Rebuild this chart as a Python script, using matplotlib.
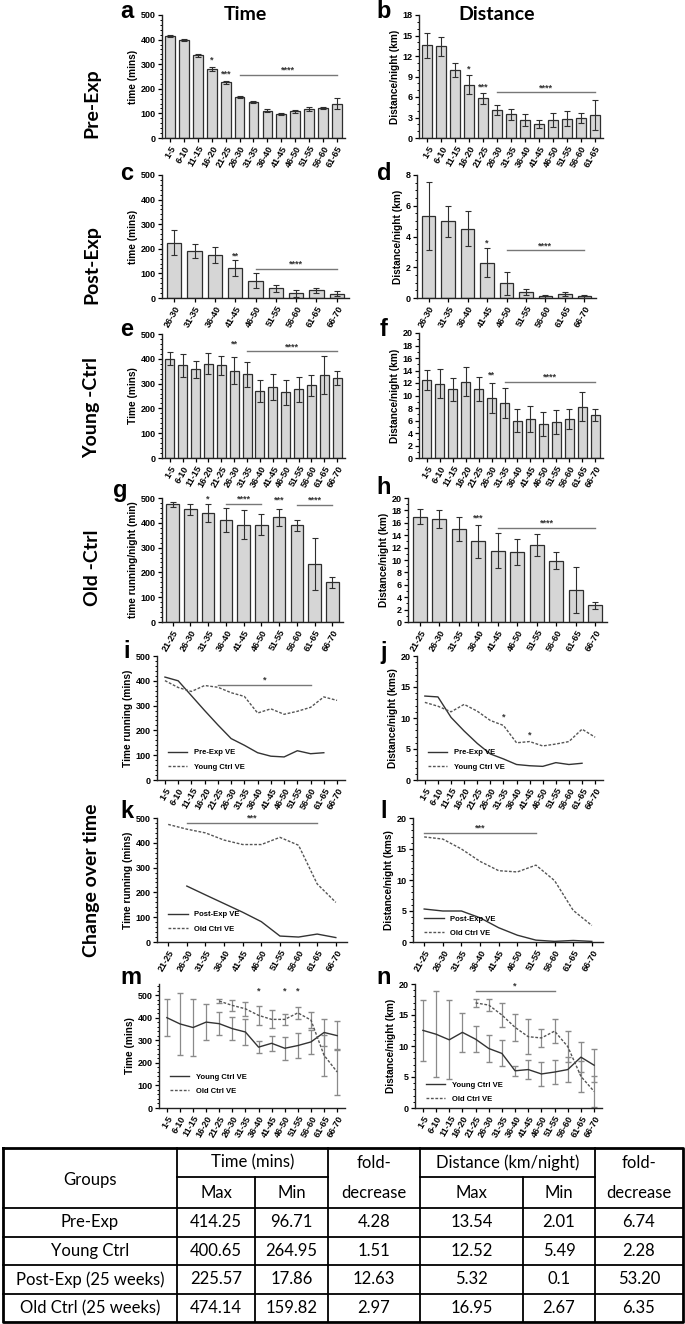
import numpy as np
import matplotlib.pyplot as plt
from matplotlib.lines import Line2D
from matplotlib.ticker import AutoMinorLocator, MultipleLocator

plt.rcParams['font.family'] = ['Liberation Sans', 'DejaVu Sans']
plt.rcParams['font.weight'] = 'bold'
plt.rcParams['axes.labelweight'] = 'bold'

W, H = 685, 1324

# ---- data ----
wk_all = ["1-5", "6-10", "11-15", "16-20", "21-25", "26-30", "31-35", "36-40",
          "41-45", "46-50", "51-55", "56-60", "61-65", "66-70"]
wk_pre = wk_all[:13]
wk_post = wk_all[5:]
wk_old = wk_all[4:]

pre_time = [414.25, 399, 336, 282, 226, 167, 145, 111, 96.71, 108, 117, 122, 139]
pre_time_err = [4, 5, 5, 8, 5, 4, 4, 5, 4, 7, 8, 6, 22]
pre_dist = [13.54, 13.4, 10.0, 7.8, 5.8, 4.1, 3.5, 2.6, 2.01, 2.6, 2.8, 2.9, 3.4]
pre_dist_err = [1.85, 1.4, 1.0, 1.4, 0.8, 0.8, 0.8, 0.85, 0.6, 1.05, 1.1, 0.7, 2.2]

post_time = [225.57, 191, 175, 121, 71, 39, 20, 31, 17.86]
post_time_err = [50, 30, 33, 33, 31, 15, 14, 11, 9]
post_dist = [5.32, 5.0, 4.5, 2.3, 0.95, 0.38, 0.1, 0.24, 0.1]
post_dist_err = [2.2, 1.0, 1.15, 0.95, 0.75, 0.2, 0.12, 0.12, 0.08]

young_time = [400.65, 373, 357, 381, 374, 352, 337, 270, 287, 264.95, 277, 293, 335, 321]
young_time_err = [27, 45, 35, 44, 39, 55, 52, 46, 52, 51, 50, 43, 77, 28]
young_dist = [12.52, 11.9, 11.0, 12.2, 11.1, 9.6, 8.8, 6.0, 6.2, 5.49, 5.8, 6.2, 8.2, 6.9]
young_dist_err = [1.6, 2.3, 1.8, 2.3, 1.9, 2.4, 2.4, 1.9, 2.1, 1.9, 1.9, 1.6, 2.3, 1.0]

old_time = [474.14, 455, 440, 411, 393, 393, 422, 390, 234, 159.82]
old_time_err = [10, 22, 35, 47, 60, 43, 33, 23, 105, 22]
old_dist = [16.95, 16.6, 15.0, 13.0, 11.5, 11.3, 12.4, 9.9, 5.1, 2.67]
old_dist_err = [1.2, 1.5, 2.0, 2.6, 2.8, 2.1, 1.8, 1.4, 3.7, 0.6]

# line panels (values read from i-l)
pre_time_ve = [415, 400, 340, 280, 222, 167, 140, 110, 96, 93, 118, 106, 110]
pre_dist_ve = [13.54, 13.4, 10.1, 7.9, 5.9, 4.2, 3.4, 2.5, 2.3, 2.2, 2.8, 2.5, 2.7]
post_time_ve = [np.nan, 225.57, 190, 155, 120, 82, 24, 20, 32, 17.86]
post_dist_ve = [5.32, 5.0, 5.0, 3.9, 2.3, 1.1, 0.3, 0.1, 0.25, 0.1]

# SD for m/n
young_time_sd = [83, 136, 126, 79, 50, 52, 57, 27, 34, 51, 56, 53, 58, 63]
old_time_sd = [10, 25, 30, 43, 40, 23, 27, 35, 92, 103]
young_dist_sd = [4.9, 6.9, 6.4, 3.1, 2.1, 2.1, 2.1, 0.8, 1.6, 1.95, 2.0, 2.0, 2.4, 2.65]
old_dist_sd = [0.6, 1.0, 2.0, 2.2, 2.8, 1.5, 1.9, 2.5, 2.5, 2.5]

# table
groups = ["Pre-Exp", "Young Ctrl", "Post-Exp (25 weeks)", "Old Ctrl (25 weeks)"]
time_max = ["414.25", "400.65", "225.57", "474.14"]
time_min = ["96.71", "264.95", "17.86", "159.82"]
time_fold = ["4.28", "1.51", "12.63", "2.97"]
dist_max = ["13.54", "12.52", "5.32", "16.95"]
dist_min = ["2.01", "5.49", "0.1", "2.67"]
dist_fold = ["6.74", "2.28", "53.20", "6.35"]

BAR = "#d6d6d6"
EDGE = "#2e2e2e"
LINE = "#333333"
DOT = "#555555"
SIG = "#777777"
DASH = (0, (2, 1.2))

fig = plt.figure(figsize=(W / 100, H / 100), dpi=100, facecolor="white")


def add_ax(l, t, r, b):
    return fig.add_axes([l / W, 1 - b / H, (r - l) / W, (b - t) / H])


def style(ax, cats, ymax, ystep, minor, ylabel):
    for s in ("top", "right"):
        ax.spines[s].set_visible(False)
    for s in ("left", "bottom"):
        ax.spines[s].set_linewidth(1.0)
        ax.spines[s].set_color("#222222")
    ax.set_ylim(0, ymax)
    ax.yaxis.set_major_locator(MultipleLocator(ystep))
    if minor:
        ax.yaxis.set_minor_locator(AutoMinorLocator(minor))
    ax.set_xticks(np.arange(len(cats)))
    ax.set_xticklabels(cats, rotation=60, ha="right", rotation_mode="anchor")
    ax.set_xlim(-0.6, len(cats) - 0.4)
    ax.tick_params(axis="both", which="major", length=3, width=0.9, labelsize=6.5, pad=1.5)
    ax.tick_params(axis="y", which="minor", length=1.8, width=0.7)
    ax.set_ylabel(ylabel, fontsize=7.3, labelpad=2)


def bar_panel(box, cats, vals, errs, ymax, ystep, minor, ylabel):
    ax = add_ax(*box)
    x = np.arange(len(cats))
    ax.bar(x, vals, width=0.7, color=BAR, edgecolor=EDGE, linewidth=0.9, zorder=2)
    ax.errorbar(x, vals, yerr=errs, fmt="none", ecolor=EDGE, elinewidth=0.8,
                capsize=2.2, capthick=0.8, zorder=3)
    style(ax, cats, ymax, ystep, minor, ylabel)
    return ax


def sig(ax, x0, x1, y, txt, ty=None, fs=6.5):
    if x1 > x0:
        ax.plot([x0, x1], [y, y], color=SIG, lw=1.0, clip_on=False)
    ax.text((x0 + x1) / 2, y if ty is None else ty, txt, ha="center", va="bottom",
            fontsize=fs, fontweight="bold", color="#333333", clip_on=False)


def line_legend(ax, labels, dy=0.02):
    handles = [Line2D([], [], color=LINE, lw=1.0), Line2D([], [], color=DOT, lw=1.0, ls=DASH)]
    ax.legend(handles, labels, loc="lower left", bbox_to_anchor=(0.02, dy), frameon=False,
              prop={"size": 5.5, "weight": "bold"}, handlelength=2.6, labelspacing=0.9)


# ---- bar panels ----
ax = bar_panel((162, 15, 345, 138), wk_pre, pre_time, pre_time_err, 500, 100, 5, "time (mins)")
sig(ax, 3, 3, 298, "*")
sig(ax, 4, 4, 240, "***")
sig(ax, 5, 12, 256, "****")

ax = bar_panel((419, 15, 603, 138), wk_pre, pre_dist, pre_dist_err, 18, 3, 3, "Distance/night (km)")
sig(ax, 3, 3, 9.4, "*")
sig(ax, 4, 4, 6.8, "***")
sig(ax, 5, 12, 6.7, "****")

ax = bar_panel((162, 175, 349, 298), wk_post, post_time, post_time_err, 500, 100, 5, "time (mins)")
sig(ax, 3, 3, 154, "**")
sig(ax, 4, 8, 119, "****")

ax = bar_panel((417, 175, 596, 298), wk_post, post_dist, post_dist_err, 8, 2, 4, "Distance/night (km)")
sig(ax, 3, 3, 3.3, "*")
sig(ax, 4, 8, 3.1, "****")

ax = bar_panel((162, 334, 345, 458), wk_all, young_time, young_time_err, 500, 100, 5, "Time (mins)")
sig(ax, 5, 5, 440, "**")
sig(ax, 6, 13, 431, "****")

ax = bar_panel((419, 333, 603, 458), wk_all, young_dist, young_dist_err, 20, 2, 2, "Distance/night (km)")
sig(ax, 5, 5, 12.6, "**")
sig(ax, 6, 13, 12.2, "****")

ax = bar_panel((162, 498, 343, 622), wk_old, old_time, old_time_err, 500, 100, 5, "time running/night (min)")
sig(ax, 2, 2, 478, "*")
sig(ax, 3, 5, 476, "****")
sig(ax, 6, 6, 472, "***")
sig(ax, 7, 9, 472, "****")

ax = bar_panel((408, 498, 607, 622), wk_old, old_dist, old_dist_err, 20, 2, 2, "Distance/night (km)")
sig(ax, 3, 3, 16.0, "***")
sig(ax, 4, 9, 15.2, "****")

# ---- line panels ----
ax = add_ax(157, 656, 345, 780)
ax.plot(np.arange(len(pre_time_ve)), pre_time_ve, color=LINE, lw=1.0)
ax.plot(np.arange(len(young_time)), young_time, color=DOT, lw=1.0, ls=DASH)
style(ax, wk_all, 500, 100, 5, "Time running (mins)")
sig(ax, 4, 11, 383, "*")
line_legend(ax, ["Pre-Exp VE", "Young Ctrl VE"], dy=0.02)

ax = add_ax(417, 656, 603, 780)
ax.plot(np.arange(len(pre_dist_ve)), pre_dist_ve, color=LINE, lw=1.0)
ax.plot(np.arange(len(young_dist)), young_dist, color=DOT, lw=1.0, ls=DASH)
style(ax, wk_all, 20, 5, 5, "Distance/night (kms)")
sig(ax, 6, 6, 9.4, "*")
sig(ax, 8, 8, 6.6, "*")
line_legend(ax, ["Pre-Exp VE", "Young Ctrl VE"], dy=0.02)

ax = add_ax(157, 818, 347, 942)
ax.plot(np.arange(len(post_time_ve)), post_time_ve, color=LINE, lw=1.0)
ax.plot(np.arange(len(old_time)), old_time, color=DOT, lw=1.0, ls=DASH)
style(ax, wk_old, 500, 100, 5, "Time running (mins)")
sig(ax, 1, 8, 480, "***")
line_legend(ax, ["Post-Exp VE", "Old Ctrl VE"], dy=0.02)

ax = add_ax(413, 818, 603, 942)
ax.plot(np.arange(len(post_dist_ve)), post_dist_ve, color=LINE, lw=1.0)
ax.plot(np.arange(len(old_dist)), old_dist, color=DOT, lw=1.0, ls=DASH)
style(ax, wk_old, 20, 5, 5, "Distance/night (kms)")
sig(ax, 0, 6, 17.6, "***")
line_legend(ax, ["Post-Exp VE", "Old Ctrl VE"], dy=-0.015)

ax = add_ax(159, 984, 345, 1108)
ax.errorbar(np.arange(len(young_time)), young_time, yerr=young_time_sd, color=LINE, lw=1.0,
            ecolor="#8a8a8a", elinewidth=0.9, capsize=2.2)
ax.errorbar(np.arange(4, 4 + len(old_time)), old_time, yerr=old_time_sd, color=DOT, lw=1.0,
            ls=DASH, ecolor="#8a8a8a", elinewidth=0.9, capsize=2.2)
style(ax, wk_all, 550, 100, 5, "Time (mins)")
for i in (7, 9, 10):
    sig(ax, i, i, 500, "*")
line_legend(ax, ["Young Ctrl VE", "Old Ctrl VE"], dy=0.05)

ax = add_ax(415, 984, 602, 1108)
ax.errorbar(np.arange(len(young_dist)), young_dist, yerr=young_dist_sd, color=LINE, lw=1.0,
            ecolor="#8a8a8a", elinewidth=0.9, capsize=2.2)
ax.errorbar(np.arange(4, 4 + len(old_dist)), old_dist, yerr=old_dist_sd, color=DOT, lw=1.0,
            ls=DASH, ecolor="#8a8a8a", elinewidth=0.9, capsize=2.2)
style(ax, wk_all, 20, 5, 5, "Distance/night (km)")
sig(ax, 4, 10, 18.9, "*")
line_legend(ax, ["Young Ctrl VE", "Old Ctrl VE"], dy=-0.015)

# ---- labels ----
for letter, x, y in [("a", 127, 12), ("b", 384, 12), ("c", 127, 174), ("d", 384, 174),
                     ("e", 127, 330), ("f", 384, 330), ("g", 120, 490), ("h", 384, 487),
                     ("i", 127, 652), ("j", 384, 652), ("k", 127, 812), ("l", 384, 812),
                     ("m", 131, 978), ("n", 384, 978)]:
    fig.text(x / W, 1 - y / H, letter, fontsize=17, fontweight="bold", ha="center", va="center",
             family=["Liberation Sans", "DejaVu Sans"])

for txt, x, y in [("Time", 245, 14), ("Distance", 497, 14)]:
    fig.text(x / W, 1 - y / H, txt, fontsize=14, fontweight="bold", ha="center", va="center",
             family=["Lato", "DejaVu Sans"])

for txt, y in [("Pre-Exp", 103), ("Post-Exp", 265), ("Young -Ctrl", 408),
               ("Old -Ctrl", 568), ("Change over time", 880)]:
    fig.text(92 / W, 1 - y / H, txt, fontsize=14, fontweight="bold", ha="center", va="center",
             rotation=90, family=["Lato", "DejaVu Sans"])

# ---- table ----
tb = fig.add_axes([0, 0, 1, 1])
tb.set_xlim(0, W)
tb.set_ylim(H, 0)
tb.axis("off")
cols = [3, 177, 255, 328, 420, 523, 595, 683]
top, h1, h2 = 1148, 1177, 1208
rows = [h2 + 28.6 * k for k in range(5)]
lw_in, lw_out = 1.3, 2.0
for xc in cols[1:-1]:
    if xc in (255, 523):
        tb.plot([xc, xc], [h1, rows[-1]], color="black", lw=lw_in)
    else:
        tb.plot([xc, xc], [top, rows[-1]], color="black", lw=lw_in)
tb.plot([177, 328], [h1, h1], color="black", lw=lw_in)
tb.plot([420, 595], [h1, h1], color="black", lw=lw_in)
for yr in rows[:-1]:
    tb.plot([cols[0], cols[-1]], [yr, yr], color="black", lw=lw_in)
tb.plot([cols[0], cols[-1], cols[-1], cols[0], cols[0]],
        [top, top, rows[-1], rows[-1], top], color="black", lw=lw_out)

tkw = dict(ha="center", va="center", fontsize=12, fontweight="normal", family=["Lato", "DejaVu Sans"])
tb.text(90, (top + h2) / 2 + 2, "Groups", **tkw)
tb.text((177 + 328) / 2, (top + h1) / 2, "Time (mins)", **tkw)
tb.text((420 + 595) / 2, (top + h1) / 2, "Distance (km/night)", **tkw)
for xa, xb in [(328, 420), (595, 683)]:
    tb.text((xa + xb) / 2, (top + h1) / 2, "fold-", **tkw)
    tb.text((xa + xb) / 2, (h1 + h2) / 2, "decrease", **tkw)
for xa, xb, t in [(177, 255, "Max"), (255, 328, "Min"), (420, 523, "Max"), (523, 595, "Min")]:
    tb.text((xa + xb) / 2, (h1 + h2) / 2, t, **tkw)
columns = [groups, time_max, time_min, time_fold, dist_max, dist_min, dist_fold]
for c, vals in enumerate(columns):
    xm = (cols[c] + cols[c + 1]) / 2
    for r, v in enumerate(vals):
        tb.text(xm, (rows[r] + rows[r + 1]) / 2, v, **tkw)

fig.savefig("out.png", dpi=100, facecolor="white")
